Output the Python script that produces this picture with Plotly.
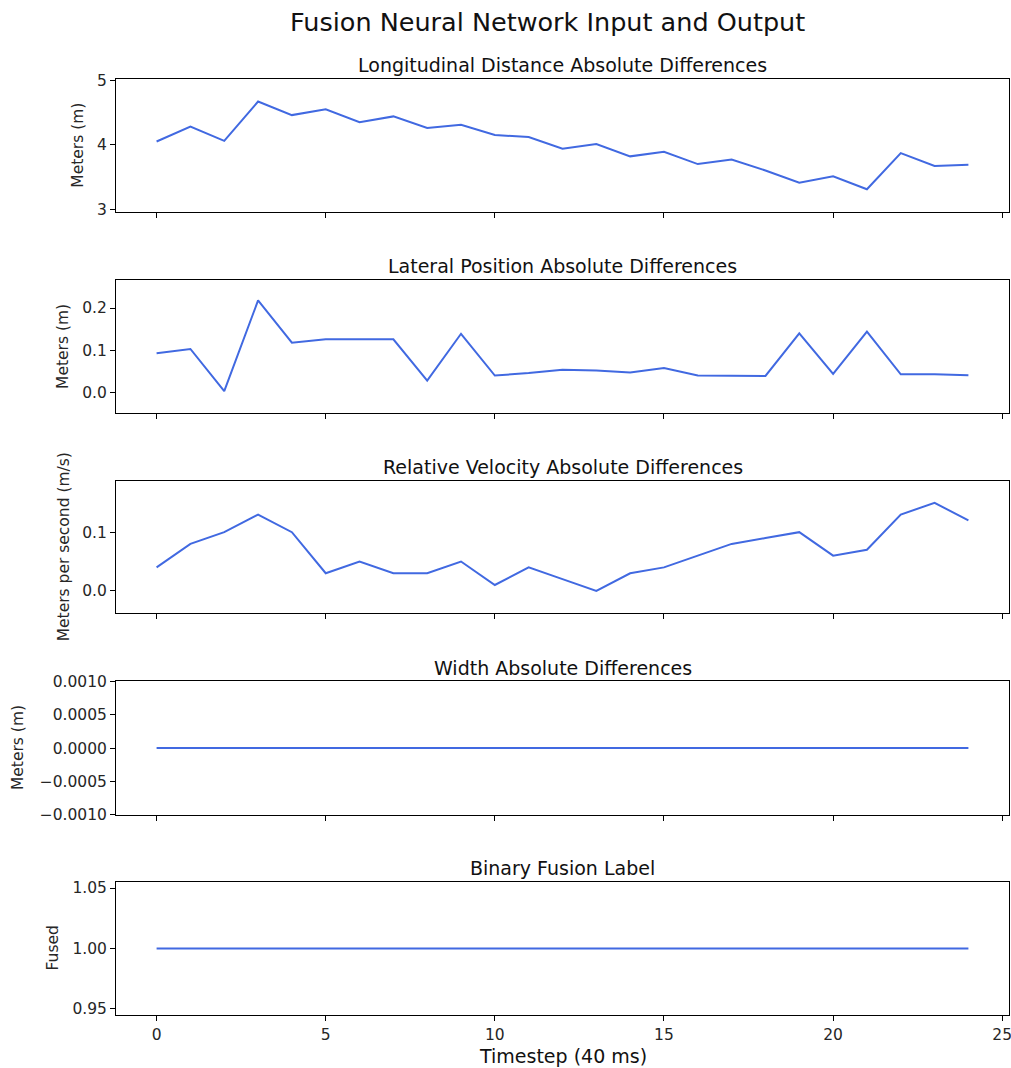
import plotly.graph_objects as go
from plotly.subplots import make_subplots

# Timesteps (each step is 40 ms)
timesteps = list(range(25))

longitudinal_diff = [4.05, 4.28, 4.06, 4.67, 4.46, 4.55, 4.35, 4.44, 4.26, 4.31,
                     4.15, 4.12, 3.94, 4.01, 3.82, 3.89, 3.70, 3.77, 3.60, 3.41,
                     3.51, 3.31, 3.87, 3.67, 3.69]
lateral_diff = [0.093, 0.103, 0.003, 0.218, 0.118, 0.126, 0.126, 0.126, 0.028, 0.139,
                0.040, 0.046, 0.054, 0.052, 0.047, 0.058, 0.040, 0.039, 0.039, 0.140,
                0.044, 0.144, 0.043, 0.043, 0.041]
velocity_diff = [0.04, 0.08, 0.10, 0.13, 0.10, 0.03, 0.05, 0.03, 0.03, 0.05,
                 0.01, 0.04, 0.02, 0.00, 0.03, 0.04, 0.06, 0.08, 0.09, 0.10,
                 0.06, 0.07, 0.13, 0.15, 0.12]
width_diff = [0.0] * 25
fusion_label = [1] * 25

panel_titles = ["Longitudinal Distance Absolute Differences",
                "Lateral Position Absolute Differences",
                "Relative Velocity Absolute Differences",
                "Width Absolute Differences",
                "Binary Fusion Label"]
y_titles = ["Meters (m)", "Meters (m)", "Meters per second (m/s)", "Meters (m)", "Fused"]
series = [longitudinal_diff, lateral_diff, velocity_diff, width_diff, fusion_label]

y_ranges = [[2.95, 5.02], [-0.049, 0.267], [-0.038, 0.188], [-0.001, 0.001], [0.945, 1.055]]
y_ticks = [[3, 4, 5], [0.0, 0.1, 0.2], [0.0, 0.1],
           [-0.001, -0.0005, 0.0, 0.0005, 0.001], [0.95, 1.0, 1.05]]
y_formats = ["d", ".1f", ".1f", ".4f", ".2f"]

W, H = 1011, 1068
# panel frames (top, bottom) in pixels
frames_px = [(79.3, 212.7), (280.0, 413.3), (480.7, 613.3), (681.3, 815.0), (882.0, 1015.0)]
# horizontal centre of each y-axis title, in pixels
ytitle_x_px = [78, 63.5, 63.5, 18, 53]
left_px, right_px = 116, 1009
top_px, bottom_px = frames_px[0][0], frames_px[-1][1]


def py(px):
    """Pixel row -> paper y coordinate."""
    return (bottom_px - px) / (bottom_px - top_px)


def pxx(px):
    """Pixel column -> paper x coordinate."""
    return (px - left_px) / (right_px - left_px)


LINE = "#4169E1"
FONT = "DejaVu Sans, Liberation Sans, sans-serif"
TXT = "#262626"

fig = make_subplots(rows=5, cols=1, shared_xaxes=False)

for i, ys in enumerate(series):
    fig.add_trace(go.Scatter(x=timesteps, y=ys, mode="lines",
                             line=dict(color=LINE, width=2), showlegend=False,
                             hoverinfo="x+y"), row=i + 1, col=1)

layout_axes = {}
annotations = []
for i in range(5):
    top, bot = frames_px[i]
    dom = [py(bot), py(top)]
    ax_suffix = "" if i == 0 else str(i + 1)
    layout_axes["xaxis" + ax_suffix] = dict(
        domain=[0, 1], range=[-1.2, 25.2], tickvals=[0, 5, 10, 15, 20, 25],
        showticklabels=(i == 4), ticks="outside", ticklen=5, tickwidth=1, tickcolor="black",
        showline=True, linecolor="black", linewidth=1, mirror=True, showgrid=False,
        zeroline=False, tickfont=dict(size=15.5, color=TXT), automargin=False,
        ticklabeloverflow="allow", anchor="y" + ax_suffix,
    )
    layout_axes["yaxis" + ax_suffix] = dict(
        domain=dom, range=y_ranges[i], tickvals=y_ticks[i], tickformat=y_formats[i],
        ticks="outside", ticklen=5, tickwidth=1, tickcolor="black",
        showline=True, linecolor="black", linewidth=1, mirror=True, showgrid=False,
        zeroline=False, tickfont=dict(size=15.5, color=TXT), automargin=False,
        ticklabeloverflow="allow", anchor="x" + ax_suffix,
    )
    # panel title
    annotations.append(dict(
        text=panel_titles[i], xref="paper", yref="paper", x=0.5, y=py(top - 13.5),
        xanchor="center", yanchor="middle", showarrow=False,
        font=dict(size=19, color="#111"),
    ))
    # y-axis title
    annotations.append(dict(
        text=y_titles[i], xref="paper", yref="paper",
        x=pxx(ytitle_x_px[i]), y=py((top + bot) / 2), textangle=-90,
        xanchor="center", yanchor="middle", showarrow=False,
        font=dict(size=15.5, color=TXT),
    ))

annotations.append(dict(
    text="Fusion Neural Network Input and Output", xref="paper", yref="paper",
    x=pxx(547), y=py(22), xanchor="center", yanchor="middle",
    showarrow=False, font=dict(size=25.5, color="#111"),
))
annotations.append(dict(
    text="Timestep (40 ms)", xref="paper", yref="paper",
    x=0.5, y=py(1056), xanchor="center", yanchor="middle",
    showarrow=False, font=dict(size=19, color="#111"),
))

fig.update_layout(
    width=W, height=H,
    margin=dict(l=left_px, r=W - right_px, t=top_px, b=H - bottom_px, autoexpand=False),
    paper_bgcolor="white", plot_bgcolor="white",
    font=dict(family=FONT, color=TXT),
    annotations=annotations,
    **layout_axes,
)

fig.write_html("out.html")
